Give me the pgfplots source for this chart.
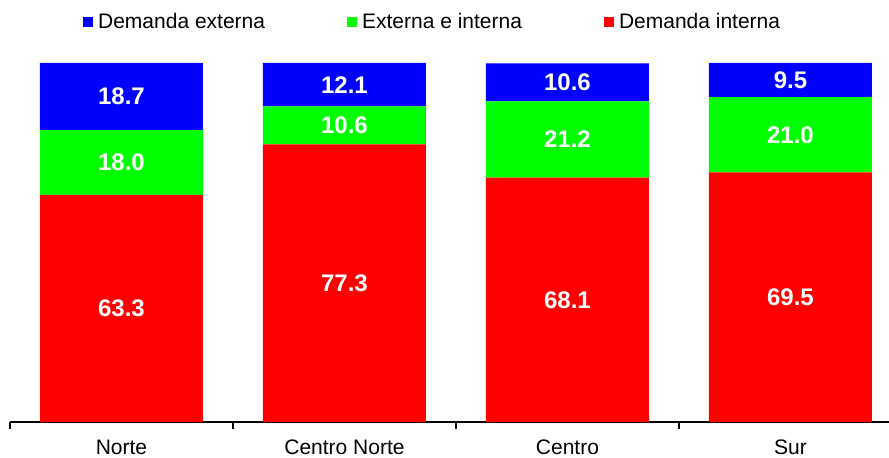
\documentclass[border=0pt]{standalone}
\usepackage{fontspec}
\setmainfont{Liberation Sans}
\usepackage{pgfplots}
\pgfplotsset{compat=1.18}
\definecolor{cblue}{RGB}{0,0,255}
\definecolor{cgreen}{RGB}{0,255,0}
\definecolor{cred}{RGB}{255,0,0}
\begin{document}
\begin{tikzpicture}
\begin{axis}[
  at={(10bp,36bp)}, anchor=south west,
  scale only axis, width=879bp, height=359bp,
  xmin=-0.5, xmax=3.442, ymin=0, ymax=100,
  enlargelimits=false,
  ybar stacked, bar width=163bp,
  axis x line*=bottom, axis y line=none,
  axis line style={black, line width=1.4bp, -},
  xtick={0,1,2,3},
  xticklabels={Norte,Centro Norte,Centro,Sur},
  major tick length=0pt,
  tick align=outside,
  extra x ticks={-0.5,0.5,1.5,2.5},
  extra x tick labels={,,,},
  extra x tick style={major tick length=7bp, tick style={black, line width=1.2bp}},
  x tick label style={font=\fontsize{21bp}{25bp}\selectfont, inner sep=0pt, anchor=north, text height=15bp, yshift=-17.5bp},
  ytick=\empty,
  clip=false,
  legend columns=3,
  reverse legend,
  legend style={at={(0.083,1.114)}, anchor=west, draw=none, fill=none, inner sep=0pt,
    font=\fontsize{21bp}{25bp}\selectfont,
    nodes={inner sep=0pt},
    /tikz/every odd column/.append style={column sep=5.5bp},
    /tikz/every even column/.append style={column sep=82bp}},
  legend image code/.code={\fill[#1] (0bp,-4.75bp) rectangle (9.5bp,4.75bp);},
  point meta=rawy,
  nodes near coords={\pgfmathprintnumber[fixed,zerofill,precision=1]{\pgfplotspointmeta}},
  every node near coord/.append style={font=\fontsize{24bp}{28bp}\selectfont\bfseries, text=white, anchor=center},
  /pgf/number format/assume math mode=true,
]
\addplot[fill=cred, draw=none] coordinates {(0,63.3) (1,77.3) (2,68.1) (3,69.5)};
\addlegendentry{Demanda interna}
\addplot[fill=cgreen, draw=none] coordinates {(0,18.0) (1,10.6) (2,21.2) (3,21.0)};
\addlegendentry{Externa e interna}
\addplot[fill=cblue, draw=none] coordinates {(0,18.7) (1,12.1) (2,10.6) (3,9.5)};
\addlegendentry{Demanda externa}
\end{axis}
\pgfresetboundingbox
\path (0bp,0bp) rectangle (889bp,458bp);
\end{tikzpicture}
\end{document}
